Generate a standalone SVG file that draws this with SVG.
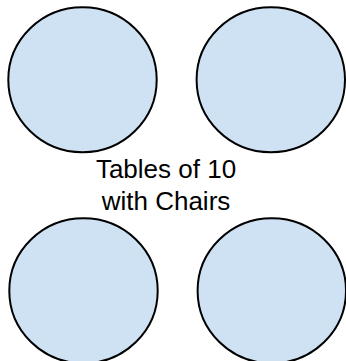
<svg xmlns="http://www.w3.org/2000/svg" width="346" height="361" viewBox="0 0 346 361">
<style>
.t{fill:#cfe2f3;stroke:#000;stroke-width:2}
.l{font-family:"Liberation Sans",Arial,sans-serif;font-size:26px;fill:#000;text-anchor:middle}
</style>
<rect width="346" height="361" fill="#fff"/>
<g id="table1"><ellipse class="t" cx="82.5" cy="79.8" rx="74.2" ry="72.5"/></g>
<g id="table2"><ellipse class="t" cx="270.8" cy="79.8" rx="74.2" ry="72.5"/></g>
<g id="table3"><ellipse class="t" cx="83.5" cy="290.8" rx="74.2" ry="72.5"/></g>
<g id="table4"><ellipse class="t" cx="271.8" cy="290.8" rx="74.2" ry="72.5"/></g>
<g id="label"><text class="l" x="166" y="178">Tables of 10</text><text class="l" x="166" y="210">with Chairs</text></g>
<g id="connectors"/>
</svg>
